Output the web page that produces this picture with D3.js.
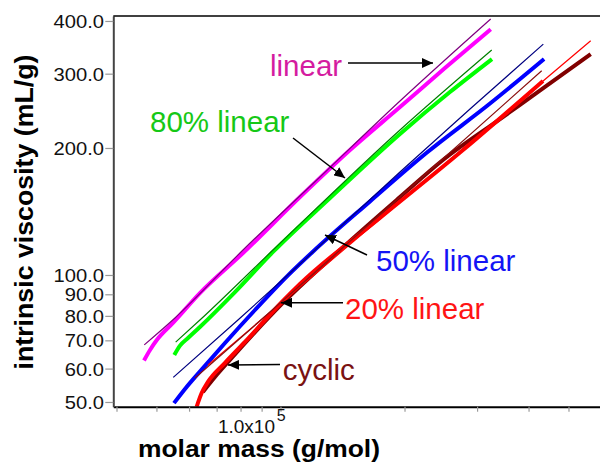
<!DOCTYPE html>
<html>
<head>
<meta charset="utf-8">
<script src="https://cdn.jsdelivr.net/npm/d3@7"></script>
<style>
  body { margin: 0; background: #fff; }
  svg { display: block; font-family: "Liberation Sans", Arial, sans-serif; }
</style>
</head>
<body>
<div id="chart"></div>
<script>
// [molar mass g/mol, intrinsic viscosity mL/g]
const linearData = [[46640, 62.7], [48240, 66.4], [50150, 70.2], [54840, 77.0], [63750, 90.6],
  [81100, 112.7], [111500, 153.0], [147500, 197.8], [195000, 250.1], [250700, 309.4], [323700, 382.2]];
const linearFit = [[46710, 68.3], [55450, 79.1], [81100, 114.6], [124700, 170.7], [195000, 258.4], [323700, 404.3]];

const lin80Data = [[55240, 64.6], [57040, 68.0], [59650, 70.9], [63750, 75.3], [77550, 91.1],
  [95900, 113.4], [131900, 152.2], [195000, 215.9], [257800, 271.4], [326100, 324.9]];
const lin80Fit = [[55670, 69.3], [63750, 78.2], [95900, 114.6], [195000, 220.6], [325600, 341.3]];

const lin50Data = [[55150, 49.7], [58650, 53.7], [65560, 60.9], [73340, 69.0], [86720, 82.6],
  [104300, 99.8], [119300, 113.1], [164900, 149.4], [226700, 195.1], [322500, 254.9], [436100, 324.9]];
const lin50Fit = [[54930, 57.2], [78850, 78.2], [111500, 106.2], [195000, 175.4], [288400, 247.4], [434400, 352.6]];

const lin20Data = [[62590, 48.7], [64370, 52.5], [66680, 55.8], [73340, 61.9], [82000, 69.4], [100800, 86.3],
  [111500, 95.2], [174300, 136.5], [277300, 197.8], [433600, 288.2]];
const lin20Fit = [[66680, 61.2], [195000, 148.9], [566100, 359.2]];

const cyclicData = [[64840, 52.8], [69340, 57.3], [75410, 62.9], [100800, 85.4], [139400, 114.6],
  [195000, 153.0], [247900, 187.3], [341000, 234.2], [438500, 279.0], [566100, 334.0]];
const cyclicFit = [[62000, 57.0], [85270, 74.9], [195000, 153.0], [430500, 304.9]];

const xTicks = [4e4, 5e4, 6e4, 7e4, 8e4, 9e4, 1e5, 2e5, 3e5, 4e5, 5e5, 6e5];
const yTicks = [50, 60, 70, 80, 90, 100, 200, 300, 400];

const width = 600, height = 463;

const svg = d3.select('#chart').append('svg')
  .attr('width', width)
  .attr('height', height);

const x = d3.scaleLog().domain([39290, 666800]).range([113.3, 620]);
const y = d3.scaleLog().domain([48.73, 411]).range([406.7, 16]);

// stretch text horizontally (the source picture is a bit wider than tall)
function stretch(sel, k) {
  sel.each(function() {
    const w = this.getComputedTextLength();
    this.setAttribute('textLength', w * k);
    this.setAttribute('lengthAdjust', 'spacingAndGlyphs');
  });
}

svg.append('clipPath').attr('id', 'plot')
  .append('rect')
  .attr('x', x.range()[0]).attr('y', y.range()[1])
  .attr('width', width - x.range()[0]).attr('height', y.range()[0] - y.range()[1]);

const series = [
  {data: linearData, color: '#ff00ff', w: 4},
  {data: linearFit, color: '#800080', w: 1.2},
  {data: lin80Data, color: '#00ff00', w: 4},
  {data: lin80Fit, color: '#008000', w: 1.2},
  {data: lin50Data, color: '#0000ff', w: 4},
  {data: lin50Fit, color: '#000080', w: 1.2},
  {data: cyclicData, color: '#800000', w: 4},
  {data: lin20Data, color: '#ff0000', w: 4},
  {data: lin20Fit, color: '#ff0000', w: 1.2},
  {data: cyclicFit, color: '#8b1010', w: 1.2}
];

const line = d3.line()
  .x(d => x(d[0]))
  .y(d => y(d[1]))
  .curve(d3.curveMonotoneX);

const plot = svg.append('g').attr('clip-path', 'url(#plot)');

series.forEach(s => {
  plot.append('path')
    .attr('d', line(s.data))
    .attr('fill', 'none')
    .attr('stroke', s.color)
    .attr('stroke-width', s.w)
    .attr('stroke-linejoin', 'round');
});

// x axis
svg.append('g')
  .attr('transform', `translate(0, ${y.range()[0]})`)
  .call(d3.axisBottom(x).tickValues(xTicks).tickFormat('').tickSizeInner(5).tickSizeOuter(0))
  .call(g => g.select('.domain').attr('stroke', '#000').attr('stroke-width', 2))
  .call(g => g.selectAll('.tick line').attr('stroke', '#999').attr('stroke-width', 1.2));

// y axis
const yAxis = svg.append('g')
  .attr('transform', `translate(${x.range()[0]}, 0)`)
  .call(d3.axisLeft(y).tickValues(yTicks).tickFormat(d3.format('.1f')).tickSizeInner(8).tickSizeOuter(0))
  .call(g => g.select('.domain').attr('stroke', '#444').attr('stroke-width', 2))
  .call(g => g.selectAll('.tick line').attr('stroke', '#999').attr('stroke-width', 1.2));

yAxis.selectAll('.tick text')
  .attr('x', -9.3)
  .attr('dy', '0.36em')
  .attr('fill', '#111')
  .style('font-size', '18px')
  .style('font-family', '"Liberation Sans", Arial, sans-serif')
  .call(stretch, 1.12);

// top frame line
svg.append('line')
  .attr('x1', x.range()[0]).attr('x2', width)
  .attr('y1', y.range()[1]).attr('y2', y.range()[1])
  .attr('stroke', '#000')
  .attr('stroke-width', 1.5);

// 1.0x10^5 label
svg.append('text')
  .attr('x', x(1e5) - 5.5)
  .attr('y', 433)
  .attr('text-anchor', 'end')
  .attr('fill', '#111')
  .style('font-size', '19px')
  .text('1.0x10');

svg.append('text')
  .attr('x', x(1e5) - 3.8)
  .attr('y', 420.7)
  .attr('fill', '#111')
  .style('font-size', '16px')
  .text('5');

// axis titles
svg.append('text')
  .attr('x', 259)
  .attr('y', 457)
  .attr('text-anchor', 'middle')
  .attr('textLength', 242)
  .attr('lengthAdjust', 'spacingAndGlyphs')
  .style('font-size', '23px')
  .style('font-weight', 'bold')
  .text('molar mass (g/mol)');

svg.append('text')
  .attr('transform', 'translate(33, 212) rotate(-90)')
  .attr('text-anchor', 'middle')
  .attr('textLength', 315)
  .attr('lengthAdjust', 'spacingAndGlyphs')
  .style('font-size', '25px')
  .style('font-weight', 'bold')
  .text('intrinsic viscosity (mL/g)');

// annotations
svg.append('defs').append('marker')
  .attr('id', 'head')
  .attr('viewBox', '0 0 11 10')
  .attr('refX', 11)
  .attr('refY', 5)
  .attr('markerWidth', 11)
  .attr('markerHeight', 10)
  .attr('markerUnits', 'userSpaceOnUse')
  .attr('orient', 'auto')
  .append('path')
  .attr('d', 'M0,0L11,5L0,10Z')
  .attr('fill', '#000');

const notes = [
  {text: 'linear', color: '#d41ca0', tx: 270, ty: 75.7, from: [348, 63], to: [433, 63]},
  {text: '80% linear', color: '#16c816', tx: 150, ty: 131.7, from: [293, 138], to: [345, 178]},
  {text: '50% linear', color: '#1414f5', tx: 376, ty: 270.7, from: [367, 255], to: [325, 235]},
  {text: '20% linear', color: '#ff1414', tx: 345, ty: 319, from: [343, 302.7], to: [281, 302.7]},
  {text: 'cyclic', color: '#7a1212', tx: 282.7, ty: 380, from: [280, 364.5], to: [228, 365]}
];

notes.forEach(n => {
  svg.append('line')
    .attr('x1', n.from[0]).attr('y1', n.from[1])
    .attr('x2', n.to[0]).attr('y2', n.to[1])
    .attr('stroke', '#000')
    .attr('stroke-width', 1.5)
    .attr('marker-end', 'url(#head)');
  svg.append('text')
    .attr('x', n.tx)
    .attr('y', n.ty)
    .attr('fill', n.color)
    .style('font-size', '29.5px')
    .text(n.text);
});
</script>
</body>
</html>
